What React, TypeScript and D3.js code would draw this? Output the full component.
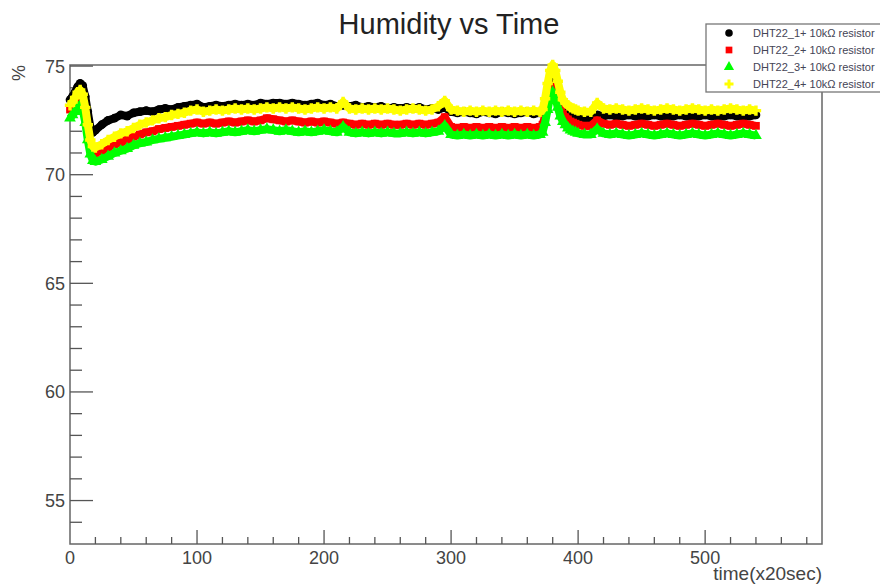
import React, { useEffect, useRef } from 'react';
import * as d3 from 'd3';

// time samples (x20 sec)
const times = [
  0, 2, 4, 6, 8, 10, 12, 14, 16, 18, 20,
  25, 30, 35, 40, 45, 50, 55, 60, 65, 70, 75, 80, 85, 90, 95, 100,
  105, 110, 115, 120, 125, 130, 135, 140, 145, 150, 155, 160, 165, 170, 175, 180, 185, 190, 195, 200,
  205, 210, 215, 220, 225, 230, 235, 240, 245, 250, 255, 260, 265, 270, 275, 280, 285, 290, 295, 300,
  305, 310, 315, 320, 325, 330, 335, 340, 345, 350, 355, 360, 365, 370,
  372, 374, 376, 378, 380, 382, 384, 386, 388, 390, 392, 394, 396, 398, 400,
  405, 410, 415, 420, 425, 430, 435, 440, 445, 450, 455, 460, 465, 470,
  475, 480, 485, 490, 495, 500, 505, 510, 515, 520, 525, 530, 535, 540,
];

const dht1 = [
  73.45, 73.6, 73.8, 74.05, 74.2, 74.1, 73.6, 72.9, 72.2, 71.95, 72.05,
  72.3, 72.5, 72.6, 72.75, 72.7, 72.85, 72.9, 72.95, 72.9, 73.0, 73.05, 73.0, 73.1, 73.15, 73.2, 73.25,
  73.1, 73.15, 73.2, 73.15, 73.2, 73.25, 73.2, 73.25, 73.2, 73.3, 73.25, 73.3, 73.3, 73.25, 73.3, 73.25, 73.2, 73.25, 73.3, 73.2,
  73.25, 73.15, 73.2, 73.15, 73.2, 73.1, 73.15, 73.1, 73.15, 73.05, 73.1, 73.05, 73.1, 73.05, 73.1, 73.0, 73.05, 73.0, 73.1, 72.9,
  72.85, 72.9, 72.85, 72.8, 72.9, 72.85, 72.8, 72.9, 72.85, 72.8, 72.85, 72.9, 72.8, 72.85,
  72.9, 73.3, 73.9, 74.5, 74.7, 74.4, 73.9, 73.5, 73.2, 73.0, 72.9, 72.8, 72.75, 72.7, 72.65,
  72.6, 72.6, 72.75, 72.7, 72.75, 72.7, 72.7, 72.75, 72.7, 72.65, 72.7, 72.75, 72.7, 72.65,
  72.7, 72.75, 72.7, 72.65, 72.7, 72.75, 72.7, 72.65, 72.7, 72.75, 72.7, 72.65, 72.7, 72.75,
];

const dht2 = [
  73.0, 73.15, 73.35, 73.6, 73.7, 73.5, 72.9, 72.1, 71.4, 71.05, 71.0,
  71.1, 71.25, 71.4, 71.5, 71.6, 71.75, 71.85, 71.95, 72.0, 72.1, 72.15, 72.2, 72.25, 72.3, 72.35, 72.4,
  72.35, 72.4, 72.35, 72.4, 72.45, 72.4, 72.45, 72.5, 72.45, 72.5, 72.6, 72.55, 72.5, 72.45, 72.5, 72.45, 72.4, 72.45, 72.4, 72.45,
  72.4, 72.35, 72.4, 72.35, 72.3, 72.35, 72.3, 72.35, 72.3, 72.35, 72.3, 72.3, 72.35, 72.3, 72.35, 72.3, 72.35, 72.4, 72.65, 72.2,
  72.15, 72.2, 72.15, 72.2, 72.15, 72.2, 72.15, 72.2, 72.15, 72.2, 72.15, 72.2, 72.15, 72.2,
  72.3, 72.7, 73.4, 73.9, 74.1, 73.9, 73.5, 73.1, 72.8, 72.65, 72.55, 72.45, 72.4, 72.35, 72.3,
  72.25, 72.25, 72.5, 72.35, 72.3, 72.35, 72.3, 72.25, 72.3, 72.35, 72.3, 72.25, 72.3, 72.35,
  72.3, 72.25, 72.3, 72.35, 72.3, 72.25, 72.3, 72.35, 72.3, 72.25, 72.3, 72.35, 72.3, 72.25,
];

const dht3 = [
  72.6, 72.75, 72.9, 73.1, 73.2, 73.0, 72.4, 71.6, 70.95, 70.65, 70.6,
  70.7, 70.85, 71.0, 71.1, 71.2, 71.35, 71.45, 71.5, 71.6, 71.65, 71.7, 71.75, 71.8, 71.85, 71.9, 71.95,
  71.9, 71.95, 71.9, 71.95, 72.0, 71.95, 72.0, 72.05, 72.0, 72.05, 72.1, 72.05, 72.0, 72.05, 72.0, 71.95, 72.0, 71.95, 72.0, 72.05,
  72.0, 71.95, 72.2, 71.95, 71.9, 71.95, 71.9, 71.95, 71.9, 71.95, 71.9, 71.9, 71.95, 71.9, 71.95, 71.9, 71.95, 72.0, 72.25, 71.85,
  71.8, 71.85, 71.8, 71.85, 71.8, 71.85, 71.8, 71.85, 71.8, 71.85, 71.8, 71.85, 71.8, 71.85,
  71.95, 72.4, 73.0, 73.6, 73.8, 73.6, 73.1, 72.7, 72.45, 72.3, 72.15, 72.05, 72.0, 71.95, 71.9,
  71.85, 71.85, 72.1, 71.9, 71.85, 71.9, 71.85, 71.8, 71.85, 71.9, 71.85, 71.8, 71.85, 71.9,
  71.85, 71.8, 71.85, 71.9, 71.85, 71.8, 71.85, 71.9, 71.85, 71.8, 71.85, 71.9, 71.85, 71.8,
];

const dht4 = [
  73.2, 73.35, 73.55, 73.8, 73.9, 73.7, 73.1, 72.3, 71.6, 71.3, 71.25,
  71.4, 71.6, 71.75, 71.9, 72.0, 72.15, 72.3, 72.4, 72.5, 72.6, 72.65, 72.75, 72.8, 72.85, 72.95, 73.0,
  72.9, 72.95, 73.0, 72.95, 73.0, 73.05, 73.0, 73.05, 73.0, 73.05, 73.1, 73.05, 73.1, 73.05, 73.1, 73.05, 73.0, 73.05, 73.1, 73.05,
  73.1, 73.05, 73.35, 73.05, 73.0, 73.05, 73.0, 73.05, 73.0, 73.05, 73.0, 72.95, 73.0, 73.05, 73.0, 72.95, 73.0, 73.15, 73.4, 73.0,
  72.95, 72.9, 72.95, 72.9, 72.95, 72.9, 72.95, 72.9, 72.95, 72.9, 72.95, 72.9, 72.95, 72.9,
  73.0, 73.5, 74.2, 74.8, 75.05, 74.8, 74.3, 73.8, 73.45, 73.3, 73.2, 73.1, 73.05, 73.0, 72.95,
  72.9, 72.9, 73.3, 73.05, 73.0, 73.05, 73.0, 72.95, 73.0, 73.05, 73.0, 72.95, 73.0, 73.05,
  73.0, 72.95, 73.0, 73.05, 73.0, 72.95, 73.0, 72.95, 73.0, 73.05, 73.0, 72.95, 73.0, 72.95,
];

const seriesNames = [
  'DHT22_1+ 10kΩ resistor',
  'DHT22_2+ 10kΩ resistor',
  'DHT22_3+ 10kΩ resistor',
  'DHT22_4+ 10kΩ resistor',
];
const seriesColors = ['#000000', '#ff0000', '#00ff00', '#ffff00'];
const seriesSymbols = [d3.symbolCircle, d3.symbolSquare, d3.symbolTriangle, d3.symbolCross];

const xTicks = [0, 100, 200, 300, 400, 500];
const yTicks = [55, 60, 65, 70, 75];

const App = () => {
  const svgRef = useRef(null);

  useEffect(() => {
    const width = 880;
    const height = 587;
    const margin = { top: 65, right: 58, bottom: 43, left: 70 };
    const innerW = width - margin.left - margin.right;
    const innerH = height - margin.top - margin.bottom;

    const svg = d3.select(svgRef.current);
    svg.selectAll('*').remove();
    svg.attr('width', width).attr('height', height);

    const g = svg.append('g').attr('transform', `translate(${margin.left},${margin.top})`);

    const x = d3.scaleLinear().domain([0, 592]).range([0, innerW]);
    const y = d3.scaleLinear().domain([53.0, 75.05]).range([innerH, 0]);

    // frame
    g.append('rect')
      .attr('width', innerW)
      .attr('height', innerH)
      .attr('fill', 'none')
      .attr('stroke', '#666')
      .attr('stroke-width', 1.5);

    // x ticks
    const xMinor = d3.range(20, 592, 20);
    g.selectAll('.xtick')
      .data(xMinor)
      .join('line')
      .attr('x1', (d) => x(d))
      .attr('x2', (d) => x(d))
      .attr('y1', innerH)
      .attr('y2', (d) => innerH - (d % 100 === 0 ? 14 : 7))
      .attr('stroke', '#555')
      .attr('stroke-width', 1.3);

    g.selectAll('.xlab')
      .data(xTicks)
      .join('text')
      .attr('x', (d) => x(d))
      .attr('y', innerH + 20)
      .attr('text-anchor', 'middle')
      .attr('font-family', 'Liberation Sans, Arial, sans-serif')
      .attr('font-size', 18)
      .attr('fill', '#444')
      .text((d) => d);

    // y ticks
    const yMinor = d3.range(54, 76, 1);
    g.selectAll('.ytick')
      .data(yMinor)
      .join('line')
      .attr('x1', 0)
      .attr('x2', (d) => (d % 5 === 0 ? 23 : 12))
      .attr('y1', (d) => y(d))
      .attr('y2', (d) => y(d))
      .attr('stroke', '#555')
      .attr('stroke-width', 1.3);

    g.selectAll('.ylab')
      .data(yTicks)
      .join('text')
      .attr('x', -5)
      .attr('y', (d) => y(d))
      .attr('dy', '0.36em')
      .attr('text-anchor', 'end')
      .attr('font-family', 'Liberation Sans, Arial, sans-serif')
      .attr('font-size', 18)
      .attr('fill', '#444')
      .text((d) => d);

    // axis titles
    svg.append('text')
      .attr('x', margin.left + innerW)
      .attr('y', 580)
      .attr('text-anchor', 'end')
      .attr('font-family', 'Liberation Sans, Arial, sans-serif')
      .attr('font-size', 19)
      .attr('fill', '#444')
      .text('time(x20sec)');

    svg.append('text')
      .attr('transform', 'translate(25,65) rotate(-90)')
      .attr('text-anchor', 'end')
      .attr('font-family', 'Liberation Sans, Arial, sans-serif')
      .attr('font-size', 18)
      .attr('fill', '#444')
      .text('%');

    svg.append('text')
      .attr('x', 449)
      .attr('y', 34)
      .attr('text-anchor', 'middle')
      .attr('font-family', 'Liberation Sans, Arial, sans-serif')
      .attr('font-size', 29)
      .attr('fill', '#222')
      .text('Humidity vs Time');

    // data: thick band through the points, then the markers
    const allSeries = [dht1, dht2, dht3, dht4];
    const line = d3.line<number>()
      .x((_, i) => x(times[i]))
      .y((d) => y(d));

    allSeries.forEach((vals, k) => {
      g.append('path')
        .datum(vals)
        .attr('d', line)
        .attr('fill', 'none')
        .attr('stroke', seriesColors[k])
        .attr('stroke-width', 8)
        .attr('stroke-linejoin', 'round');

      g.selectAll(`.m${k}`)
        .data(vals)
        .join('path')
        .attr('transform', (d, i) => `translate(${x(times[i])},${y(d)})`)
        .attr('d', d3.symbol().type(seriesSymbols[k]).size(60))
        .attr('fill', seriesColors[k]);
    });

    // legend
    const leg = svg.append('g').attr('transform', 'translate(706,24)');
    leg.append('rect')
      .attr('width', 200)
      .attr('height', 68)
      .attr('fill', '#fff')
      .attr('stroke', '#777')
      .attr('stroke-width', 1.3);

    seriesNames.forEach((name, k) => {
      const cy = 9 + k * 17;
      leg.append('path')
        .attr('transform', `translate(23,${cy})`)
        .attr('d', d3.symbol().type(seriesSymbols[k]).size(45))
        .attr('fill', seriesColors[k]);
      leg.append('text')
        .attr('x', 47)
        .attr('y', cy)
        .attr('dy', '0.35em')
        .attr('font-family', 'Liberation Sans, Arial, sans-serif')
        .attr('font-size', 11)
        .attr('fill', '#445')
        .text(name);
    });
  }, []);

  return <svg ref={svgRef} style={{ position: 'absolute', left: 0, top: 0 }} />;
};

export default App;
